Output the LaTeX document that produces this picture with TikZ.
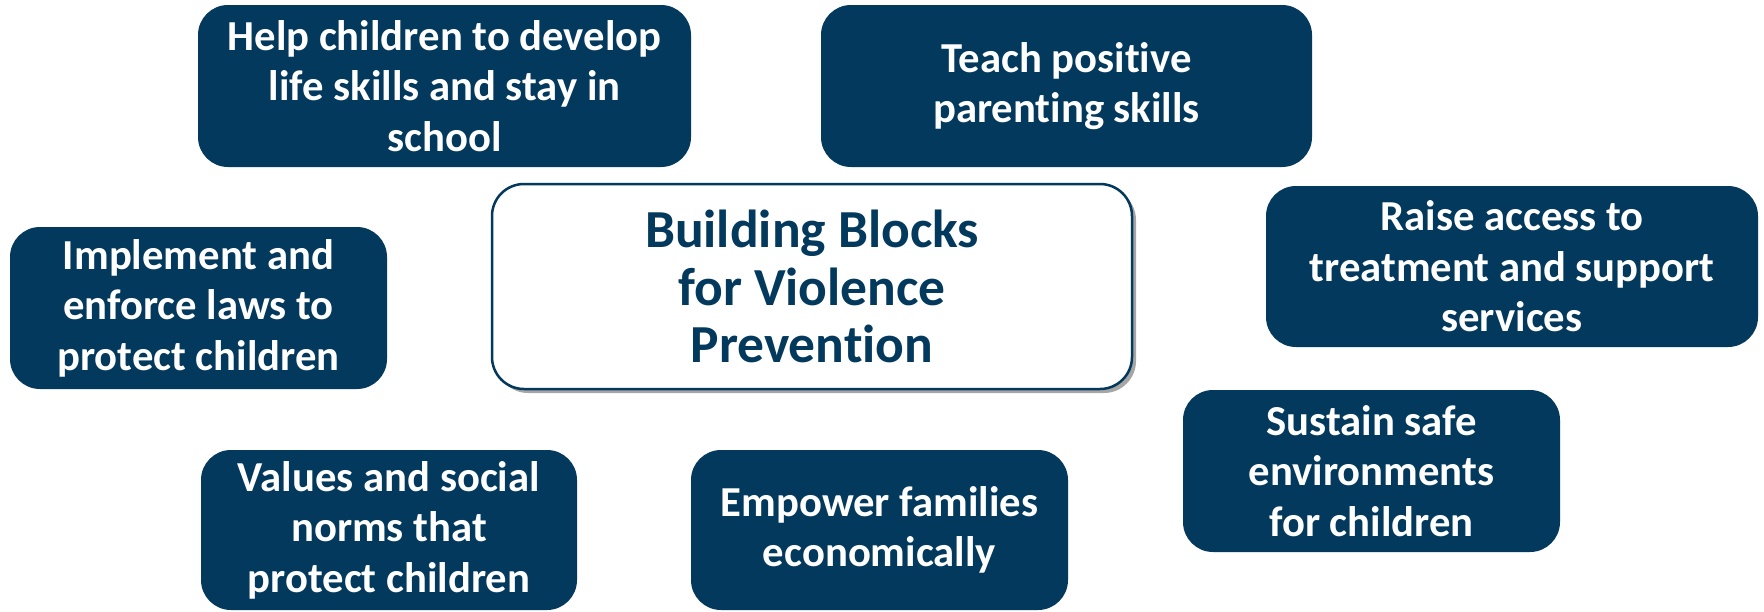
\documentclass[tikz,border=0pt]{standalone}
\usepackage{fontspec}
\setmainfont{Carlito}[Ligatures=NoCommon]
\usetikzlibrary{shadows}
\definecolor{navy}{RGB}{3,57,92}
\tikzset{
  blk/.style={fill=navy, draw=none, rounded corners=30pt, text=white, align=center,
    inner sep=0pt, font=\fontsize{42.7}{50.6}\selectfont\bfseries},
  hub/.style={fill=white, draw=navy, line width=2.5pt, rounded corners=32pt, text=navy, align=center,
    inner sep=0pt, font=\fontsize{53.5}{57.4}\selectfont\bfseries,
    drop shadow={shadow xshift=4pt, shadow yshift=-4pt, fill=black, opacity=0.35}}
}
\begin{document}
\begin{tikzpicture}[x=1pt,y=-1pt]
\useasboundingbox[fill=white] (0,0) rectangle (1764,611);
\node[hub, minimum width=640pt, minimum height=205pt] (hubnode) at (812,286.5) {Building Blocks\\for Violence\\Prevention};
\node[blk, minimum width=493pt, minimum height=162pt] (help) at (444.5,86) {Help children to develop\\life skills and stay in\\school};
\node[blk, minimum width=491pt, minimum height=162pt] (teach) at (1066.5,86) {Teach positive\\parenting skills};
\node[blk, minimum width=377pt, minimum height=162pt] (impl) at (198.5,308) {Implement and\\enforce laws to\\protect children};
\node[blk, minimum width=492pt, minimum height=161pt] (raise) at (1512,266.5) {Raise access to\\treatment and support\\services};
\node[blk, minimum width=377pt, minimum height=162pt] (sustain) at (1371.5,471) {Sustain safe\\environments\\for children};
\node[blk, minimum width=376pt, minimum height=160pt] (values) at (389,530) {Values and social\\norms that\\protect children};
\node[blk, minimum width=377pt, minimum height=160pt] (empower) at (879.5,530) {Empower families\\economically};
\end{tikzpicture}
\end{document}
